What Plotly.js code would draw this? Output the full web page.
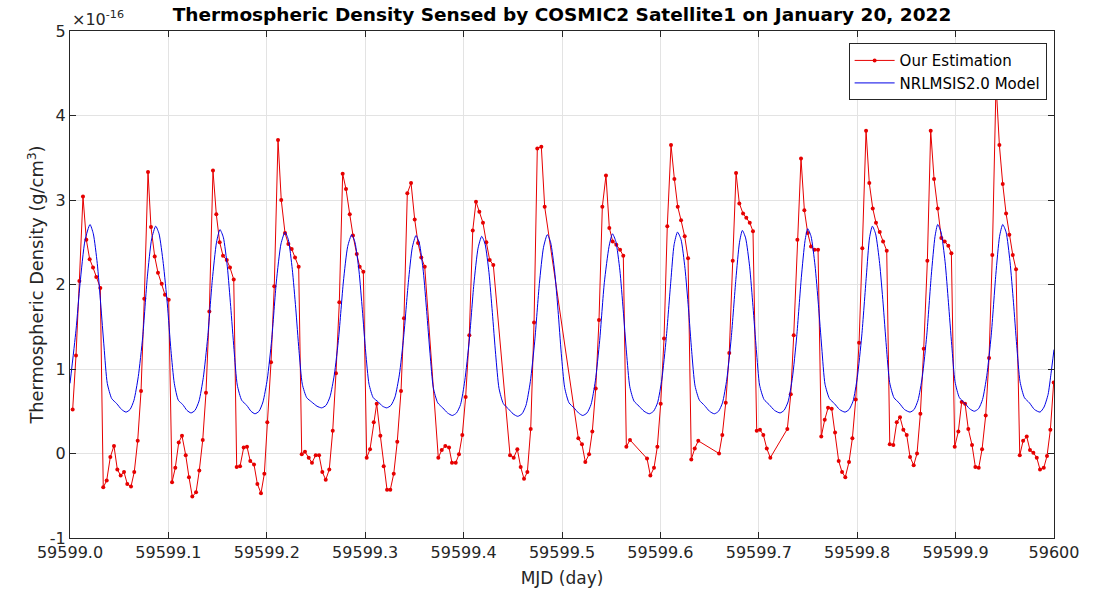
<!DOCTYPE html>
<html>
<head>
<meta charset="utf-8">
<script src="https://cdn.plot.ly/plotly-3.0.1.min.js"></script>
<style>html,body{margin:0;padding:0;background:#fff;}#chart{width:1107px;height:590px;}</style>
</head>
<body>
<div id="chart"></div>
<script>
// Density values are in units of 1e-16 g/cm^3
const estMJD = [
59599.0027,59599.0061,59599.0095,59599.0132,59599.0166,59599.0200,59599.0234,59599.0267,59599.0308,59599.0338,
59599.0373,59599.0410,59599.0447,59599.0481,59599.0515,59599.0549,59599.0582,59599.0620,59599.0653,59599.0688,
59599.0722,59599.0755,59599.0793,59599.0823,59599.0861,59599.0894,59599.0932,59599.0965,59599.1003,59599.1037,
59599.1070,59599.1105,59599.1138,59599.1176,59599.1209,59599.1243,59599.1281,59599.1314,59599.1349,59599.1382,
59599.1416,59599.1453,59599.1487,59599.1521,59599.1555,59599.1593,59599.1626,59599.1664,59599.1694,59599.1728,
59599.1765,59599.1799,59599.1832,59599.1870,59599.1904,59599.1941,59599.1975,59599.2005,59599.2043,59599.2076,
59599.2114,59599.2147,59599.2185,59599.2219,59599.2253,59599.2287,59599.2324,59599.2355,59599.2388,59599.2426,
59599.2459,59599.2497,59599.2531,59599.2564,59599.2599,59599.2635,59599.2670,59599.2703,59599.2737,59599.2771,
59599.2805,59599.2843,59599.2876,59599.2914,59599.2944,59599.2981,59599.3015,59599.3049,59599.3087,59599.3117,
59599.3154,59599.3188,59599.3222,59599.3255,59599.3290,59599.3326,59599.3364,59599.3394,59599.3428,59599.3466,
59599.3503,59599.3537,59599.3570,59599.3605,59599.3743,59599.3778,59599.3814,59599.3852,59599.3882,59599.3920,
59599.3953,59599.3987,59599.4021,59599.4058,59599.4093,59599.4126,59599.4160,59599.4197,59599.4231,59599.4265,
59599.4302,59599.4472,59599.4509,59599.4546,59599.4580,59599.4614,59599.4648,59599.4682,59599.4716,59599.4749,
59599.4790,59599.4824,59599.5166,59599.5203,59599.5237,59599.5275,59599.5308,59599.5343,59599.5376,59599.5410,
59599.5447,59599.5481,59599.5515,59599.5552,59599.5590,59599.5623,59599.5654,59599.5691,59599.5864,59599.5898,
59599.5935,59599.5969,59599.6003,59599.6037,59599.6070,59599.6108,59599.6142,59599.6176,59599.6210,59599.6247,
59599.6281,59599.6314,59599.6349,59599.6385,59599.6596,59599.6629,59599.6664,59599.6700,59599.6735,59599.6769,
59599.6802,59599.6840,59599.6873,59599.6908,59599.6941,59599.6979,59599.7012,59599.7046,59599.7081,59599.7117,
59599.7290,59599.7325,59599.7355,59599.7392,59599.7429,59599.7463,59599.7497,59599.7531,59599.7566,59599.7602,
59599.7635,59599.7670,59599.7704,59599.7741,59599.7775,59599.7812,59599.7846,59599.7879,59599.7917,59599.7951,
59599.7985,59599.8019,59599.8052,59599.8090,59599.8123,59599.8158,59599.8191,59599.8229,59599.8263,59599.8300,
59599.8331,59599.8367,59599.8402,59599.8435,59599.8469,59599.8503,59599.8537,59599.8574,59599.8608,59599.8642,
59599.8676,59599.8713,59599.8747,59599.8781,59599.8818,59599.8855,59599.8889,59599.8926,59599.8957,59599.8991,
59599.9028,59599.9062,59599.9096,59599.9129,59599.9167,59599.9201,59599.9235,59599.9269,59599.9306,59599.9340,
59599.9373,59599.9411,59599.9445,59599.9479,59599.9513,59599.9546,59599.9581,59599.9614,59599.9652,59599.9686,
59599.9723,59599.9756,59599.9790,59599.9825,59599.9858,59599.9896,59599.9929,59599.9963,59599.9997
];
const estDensity = [
0.52,1.16,2.04,3.04,2.53,2.30,2.20,2.09,1.96,-0.40,
-0.32,-0.04,0.09,-0.19,-0.26,-0.22,-0.36,-0.39,-0.22,0.15,
0.74,1.83,3.33,2.68,2.33,2.14,2.01,1.88,1.82,-0.34,
-0.17,0.13,0.21,-0.02,-0.28,-0.51,-0.46,-0.20,0.16,0.72,
1.68,3.35,2.83,2.50,2.34,2.29,2.20,2.06,-0.16,-0.15,
0.07,0.08,-0.09,-0.13,-0.36,-0.47,-0.24,0.37,1.08,1.98,
3.71,3.00,2.61,2.48,2.42,2.32,2.21,-0.01,0.02,-0.05,
-0.11,-0.02,-0.02,-0.22,-0.31,-0.19,0.27,0.95,1.79,3.31,
3.13,2.83,2.58,2.36,2.21,2.15,-0.05,0.05,0.37,0.59,
0.21,-0.15,-0.43,-0.43,-0.24,0.14,0.74,1.60,3.08,3.20,
2.77,2.49,2.32,2.21,-0.05,0.04,0.09,0.07,-0.11,-0.11,
-0.01,0.22,0.67,1.40,2.64,2.98,2.86,2.73,2.50,2.29,
2.23,-0.02,-0.05,0.05,-0.16,-0.30,-0.22,0.29,1.55,3.61,
3.63,2.92,0.18,0.11,-0.10,-0.01,0.26,0.77,1.58,2.92,
3.29,2.67,2.51,2.47,2.41,2.34,0.08,0.16,-0.06,-0.26,
-0.17,0.08,0.59,1.36,2.69,3.65,3.25,2.92,2.76,2.57,
2.31,-0.07,0.06,0.15,0.00,0.22,0.60,1.19,2.28,3.32,
2.96,2.84,2.79,2.73,2.63,0.27,0.28,0.22,0.06,-0.05,
0.29,0.70,1.40,2.53,3.49,2.88,2.61,2.45,2.41,2.41,
0.20,0.40,0.54,0.53,0.25,-0.09,-0.22,-0.28,-0.10,0.18,
0.64,1.31,2.43,3.82,3.20,2.90,2.73,2.62,2.51,2.40,
0.11,0.10,0.37,0.43,0.28,0.22,-0.04,-0.14,0.00,0.47,
1.24,2.28,3.82,3.25,2.90,2.55,2.51,2.46,2.37,0.08,
0.26,0.61,0.59,0.29,0.10,-0.16,-0.17,0.05,0.45,1.13,
2.35,4.38,3.65,3.19,2.84,2.59,2.35,2.18,-0.02,0.15,
0.20,0.04,0.01,-0.05,-0.19,-0.17,-0.03,0.28,0.84
];
const modelMJD = [
59599.0000,59599.0061,59599.0102,59599.0152,59599.0203,59599.0237,59599.0277,59599.0312,59599.0346,59599.0379,
59599.0424,59599.0475,59599.0525,59599.0569,59599.0610,59599.0650,59599.0694,59599.0739,59599.0786,59599.0830,
59599.0871,59599.0905,59599.0948,59599.0989,59599.1026,59599.1060,59599.1101,59599.1145,59599.1189,59599.1230,
59599.1270,59599.1311,59599.1355,59599.1399,59599.1446,59599.1489,59599.1524,59599.1558,59599.1599,59599.1633,
59599.1667,59599.1700,59599.1745,59599.1796,59599.1840,59599.1880,59599.1921,59599.1961,59599.2005,59599.2050,
59599.2097,59599.2144,59599.2185,59599.2219,59599.2259,59599.2294,59599.2327,59599.2361,59599.2406,59599.2456,
59599.2510,59599.2558,59599.2602,59599.2642,59599.2686,59599.2731,59599.2778,59599.2822,59599.2863,59599.2896,
59599.2937,59599.2971,59599.3005,59599.3039,59599.3082,59599.3133,59599.3176,59599.3219,59599.3262,59599.3303,
59599.3347,59599.3391,59599.3438,59599.3479,59599.3516,59599.3550,59599.3591,59599.3625,59599.3659,59599.3692,
59599.3737,59599.3788,59599.3837,59599.3885,59599.3928,59599.3969,59599.4012,59599.4057,59599.4104,59599.4147,
59599.4184,59599.4218,59599.4258,59599.4292,59599.4326,59599.4360,59599.4404,59599.4454,59599.4502,59599.4550,
59599.4594,59599.4634,59599.4678,59599.4723,59599.4770,59599.4812,59599.4851,59599.4884,59599.4925,59599.4960,
59599.4993,59599.5027,59599.5071,59599.5122,59599.5168,59599.5211,59599.5254,59599.5295,59599.5339,59599.5383,
59599.5430,59599.5478,59599.5513,59599.5547,59599.5588,59599.5622,59599.5656,59599.5689,59599.5732,59599.5783,
59599.5834,59599.5887,59599.5930,59599.5971,59599.6015,59599.6059,59599.6106,59599.6139,59599.6174,59599.6210,
59599.6250,59599.6285,59599.6318,59599.6352,59599.6397,59599.6447,59599.6499,59599.6548,59599.6591,59599.6631,
59599.6675,59599.6720,59599.6767,59599.6804,59599.6833,59599.6866,59599.6907,59599.6941,59599.6975,59599.7008,
59599.7053,59599.7104,59599.7160,59599.7216,59599.7256,59599.7297,59599.7341,59599.7385,59599.7432,59599.7470,
59599.7497,59599.7531,59599.7571,59599.7606,59599.7640,59599.7673,59599.7718,59599.7769,59599.7821,59599.7876,
59599.7917,59599.7958,59599.8001,59599.8046,59599.8093,59599.8125,59599.8154,59599.8187,59599.8228,59599.8263,
59599.8296,59599.8330,59599.8374,59599.8425,59599.8481,59599.8537,59599.8578,59599.8618,59599.8662,59599.8707,
59599.8753,59599.8791,59599.8818,59599.8852,59599.8893,59599.8927,59599.8961,59599.8994,59599.9039,59599.9090,
59599.9142,59599.9190,59599.9233,59599.9274,59599.9317,59599.9362,59599.9409,59599.9447,59599.9479,59599.9513,
59599.9553,59599.9588,59599.9621,59599.9655,59599.9700,59599.9750,59599.9802,59599.9858,59599.9899,59599.9940,
59599.9970,59600.0000
];
const modelDensity = [
0.83,1.46,2.01,2.52,2.71,2.60,2.25,1.77,1.26,0.83,
0.65,0.59,0.52,0.49,0.52,0.63,0.91,1.38,2.09,2.54,
2.69,2.60,2.25,1.77,1.22,0.83,0.63,0.58,0.51,0.48,
0.51,0.62,0.90,1.37,2.05,2.50,2.65,2.56,2.21,1.74,
1.23,0.81,0.63,0.57,0.50,0.47,0.50,0.61,0.88,1.35,
2.03,2.48,2.62,2.53,2.18,1.72,1.22,0.82,0.66,0.61,
0.56,0.54,0.57,0.67,0.93,1.38,2.03,2.45,2.59,2.50,
2.16,1.70,1.20,0.82,0.66,0.61,0.56,0.54,0.57,0.67,
0.93,1.38,2.02,2.44,2.58,2.49,2.15,1.68,1.18,0.78,
0.60,0.54,0.48,0.45,0.48,0.58,0.86,1.33,2.00,2.43,
2.57,2.48,2.14,1.67,1.17,0.77,0.59,0.53,0.47,0.44,
0.47,0.57,0.85,1.33,2.01,2.44,2.59,2.50,2.16,1.69,
1.18,0.78,0.60,0.54,0.48,0.45,0.48,0.58,0.86,1.34,
2.02,2.45,2.60,2.51,2.17,1.70,1.19,0.79,0.62,0.56,
0.50,0.47,0.50,0.60,0.88,1.36,2.04,2.47,2.62,2.53,
2.19,1.72,1.21,0.80,0.63,0.57,0.50,0.47,0.50,0.60,
0.88,1.37,2.06,2.50,2.64,2.55,2.21,1.74,1.23,0.81,
0.64,0.58,0.51,0.48,0.51,0.61,0.89,1.38,2.08,2.52,
2.66,2.57,2.23,1.76,1.25,0.82,0.65,0.59,0.52,0.49,
0.52,0.62,0.90,1.39,2.10,2.55,2.69,2.60,2.25,1.78,
1.27,0.84,0.66,0.60,0.52,0.49,0.52,0.63,0.91,1.40,
2.11,2.57,2.71,2.62,2.27,1.79,1.28,0.85,0.66,0.60,
0.53,0.50,0.53,0.64,0.92,1.40,2.12,2.57,2.71,2.62,
2.27,1.79,1.28,0.85,0.66,0.60,0.52,0.49,0.55,0.70,
0.95,1.23
];
const xTickVals = [59599.0,59599.1,59599.2,59599.3,59599.4,59599.5,59599.6,59599.7,59599.8,59599.9,59600.0];
const xTickText = ["59599.0","59599.1","59599.2","59599.3","59599.4","59599.5","59599.6","59599.7","59599.8","59599.9","59600"];
const yTickVals = [-1,0,1,2,3,4,5];
const yTickText = ["-1","0","1","2","3","4","5"];

const FONT = "DejaVu Sans, Liberation Sans, sans-serif";
const AX = "#262626";

const traces = [
  {
    x: estMJD, y: estDensity, type: "scatter", mode: "lines+markers",
    name: "Our Estimation",
    line: {color: "rgb(230,0,0)", width: 1},
    marker: {color: "rgb(230,0,0)", size: 4}
  },
  {
    x: modelMJD, y: modelDensity, type: "scatter", mode: "lines",
    name: "NRLMSIS2.0 Model",
    line: {color: "rgb(0,0,230)", width: 1, shape: "spline", smoothing: 0.6}
  }
];

const axisCommon = {
  showline: true, linecolor: AX, linewidth: 1, mirror: "ticks",
  ticks: "inside", ticklen: 6, tickcolor: AX, tickwidth: 1,
  showgrid: true, gridcolor: "#e3e3e3", gridwidth: 1,
  zeroline: false,
  tickfont: {family: FONT, size: 16, color: AX}
};

const layout = {
  width: 1107, height: 590,
  paper_bgcolor: "#fff", plot_bgcolor: "#fff",
  margin: {l: 70, r: 53, t: 31, b: 52},
  font: {family: FONT, color: AX},
  title: {
    text: "<b>Thermospheric Density Sensed by COSMIC2 Satellite1 on January 20, 2022</b>",
    font: {family: FONT, size: 18.5, color: "#000"},
    x: 0.5, xref: "paper", xanchor: "center",
    y: 0.975, yref: "container", yanchor: "middle"
  },
  xaxis: Object.assign({}, axisCommon, {
    range: [59599.0, 59600.0], tickmode: "array", tickvals: xTickVals, ticktext: xTickText,
    title: {text: "MJD (day)", font: {family: FONT, size: 17, color: AX}, standoff: 10}
  }),
  yaxis: Object.assign({}, axisCommon, {
    range: [-1, 5], tickmode: "array", tickvals: yTickVals, ticktext: yTickText,
    title: {text: "Thermospheric Density (g/cm<sup>3</sup>)", font: {family: FONT, size: 17.8, color: AX}, standoff: 1}
  }),
  showlegend: true,
  legend: {
    x: 0.9925, y: 0.976, xanchor: "right", yanchor: "top",
    bgcolor: "#fff", bordercolor: AX, borderwidth: 1,
    font: {family: FONT, size: 15, color: "#000"},
    tracegroupgap: 0, itemwidth: 40
  },
  annotations: [
    {
      xref: "paper", yref: "paper", x: 0, y: 1, xanchor: "left", yanchor: "bottom",
      text: "×10<sup>-16</sup>", showarrow: false,
      font: {family: FONT, size: 16, color: AX}
    }
  ]
};

Plotly.newPlot("chart", traces, layout, {displayModeBar: false, staticPlot: true});
</script>
</body>
</html>
